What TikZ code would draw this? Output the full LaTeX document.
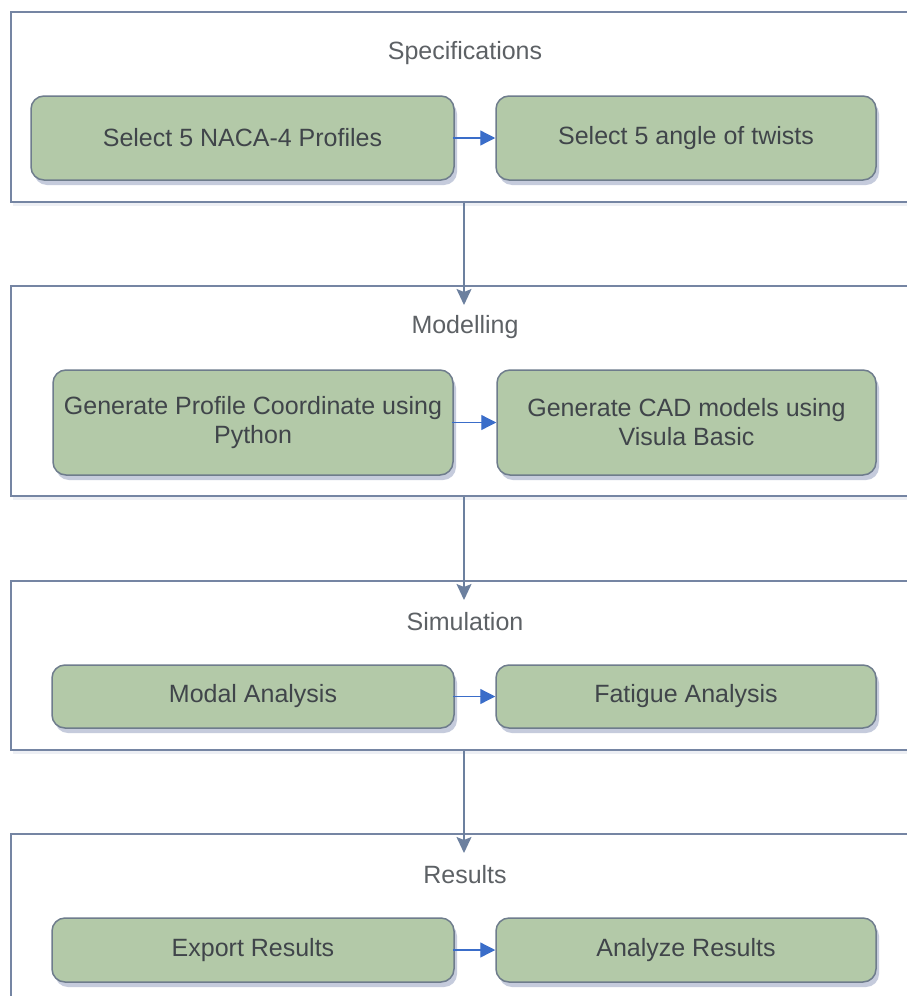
\documentclass[tikz,border=0pt]{standalone}
\usepackage{fontspec}
\setmainfont{Liberation Sans}
\usetikzlibrary{arrows.meta,shadows}
\definecolor{boxfill}{HTML}{B3C9A8}
\definecolor{boxline}{HTML}{6E7C8C}
\definecolor{txt}{HTML}{40454A}
\definecolor{contline}{HTML}{7585A3}
\definecolor{varrowc}{HTML}{6C809F}
\definecolor{harrowc}{HTML}{3A6DC9}
\definecolor{shadowc}{HTML}{6F7FA8}
\tikzset{
  container/.style={draw=contline, line width=1.5pt, fill=white, inner sep=0pt,
    drop shadow={shadow xshift=2pt, shadow yshift=-4pt, opacity=0.12, fill=shadowc}},
  stepbox/.style={draw=boxline, line width=1.5pt, fill=boxfill, rounded corners=13pt,
    inner sep=2pt, text=txt, align=center,
    font=\fontsize{25}{29}\selectfont,
    drop shadow={shadow xshift=3pt, shadow yshift=-5pt, opacity=0.4, fill=shadowc}},
  clabel/.style={text=txt!85!white, font=\fontsize{25}{29}\selectfont, inner sep=1pt},
  varrow/.style={draw=varrowc, line width=1.5pt, -{Stealth[length=16pt,width=15pt,inset=3pt]}},
  harrow/.style={draw=harrowc, line width=1.3pt, -{Triangle[length=15pt,width=15pt]}}
}
\begin{document}
\begin{tikzpicture}[x=1pt,y=-1pt]
\useasboundingbox (0,0) rectangle (907,996);
\clip (0,0) rectangle (907,996);
\fill[white] (0,0) rectangle (907,996);

% containers
\node[container, minimum width=906pt, minimum height=190pt] (c1) at (464,107) {};
\node[container, minimum width=906pt, minimum height=210pt] (c2) at (464,391) {};
\node[container, minimum width=906pt, minimum height=169pt] (c3) at (464,665.5) {};
\node[container, minimum width=906pt, minimum height=200pt] (c4) at (464,934) {};

% labels
\node[clabel] (l1) at (465,53) {Specifications};
\node[clabel] (l2) at (465,327) {Modelling};
\node[clabel] (l3) at (465,622) {Simulation};
\node[clabel] (l4) at (465,875) {Results};

% boxes
\node[stepbox, minimum width=423pt, minimum height=84pt] (b1) at (242.5,138) {Select 5 NACA-4 Profiles};
\node[stepbox, minimum width=380pt, minimum height=84pt] (b2) at (686,138) {Select 5 angle of twists};

\node[stepbox, minimum width=400pt, minimum height=105pt] (b3) at (253,422.5) {Generate Profile Coordinate using\\Python};
\node[stepbox, minimum width=379pt, minimum height=105pt] (b4) at (686.5,422.5) {Generate CAD models using\\Visula Basic};

\node[stepbox, minimum width=402pt, minimum height=63pt] (b5) at (253,696.5) {Modal Analysis};
\node[stepbox, minimum width=380pt, minimum height=63pt] (b6) at (686,696.5) {Fatigue Analysis};

\node[stepbox, minimum width=402pt, minimum height=64pt] (b7) at (253,950) {Export Results};
\node[stepbox, minimum width=380pt, minimum height=64pt] (b8) at (686,950) {Analyze Results};

% horizontal arrows
\draw[harrow] ([xshift=-2pt]b1.east) -- (b2.west);
\draw[harrow] ([xshift=-2pt]b3.east) -- (b4.west);
\draw[harrow] ([xshift=-2pt]b5.east) -- (b6.west);
\draw[harrow] ([xshift=-2pt]b7.east) -- (b8.west);

% vertical arrows
\coordinate (t2) at (464,305);
\coordinate (t3) at (464,600);
\coordinate (t4) at (464,853);
\draw[varrow] (c1.south) -- (t2);
\draw[varrow] (c2.south) -- (t3);
\draw[varrow] (c3.south) -- (t4);
\end{tikzpicture}
\end{document}
